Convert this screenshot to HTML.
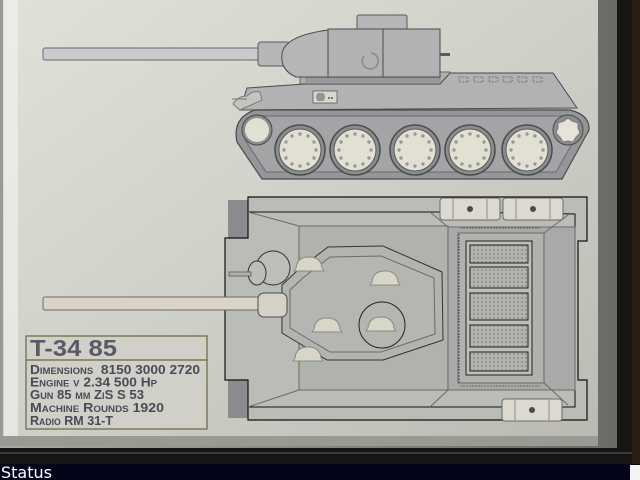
<!DOCTYPE html>
<html><head><meta charset="utf-8"><style>
html,body{margin:0;padding:0;background:#111;}
body{width:640px;height:480px;overflow:hidden;position:relative;font-family:"Liberation Sans",sans-serif;}
</style></head><body>
<svg width="640" height="480" viewBox="0 0 640 480" xmlns="http://www.w3.org/2000/svg" style="position:absolute;left:0;top:0">
<defs>
<linearGradient id="bg" x1="0" y1="0" x2="1" y2="1">
<stop offset="0" stop-color="#e0e2da"/><stop offset="0.5" stop-color="#cfd1c9"/><stop offset="1" stop-color="#babab2"/>
</linearGradient>
<linearGradient id="rf" x1="0" y1="0" x2="1" y2="0">
<stop offset="0" stop-color="#a8a8a0"/><stop offset="0.5" stop-color="#888882"/><stop offset="1" stop-color="#6a6a66"/>
</linearGradient>
<pattern id="grill" width="4" height="4" patternUnits="userSpaceOnUse">
<rect width="4" height="4" fill="#b4b4ae"/><circle cx="2" cy="2" r="1" fill="#8c8c88"/>
</pattern>
<g id="hatch"><path d="M-15,5 L15,5 L13,2 Q12,-9 0,-9 Q-12,-9 -13,2 Z" fill="#d8d6c8" stroke="#8a8a80" stroke-width="1"/></g>
<g id="wheel"><circle r="25" fill="#8a8c8e" stroke="#4a4c4e" stroke-width="1.5"/><circle r="21" fill="#e2e0d2" stroke="#5a5a5a"/>
<g fill="#9a9a94"><circle cx="0" cy="-16" r="1.7"/><circle cx="8" cy="-14" r="1.7"/><circle cx="14" cy="-8" r="1.7"/><circle cx="16" cy="0" r="1.7"/><circle cx="14" cy="8" r="1.7"/><circle cx="8" cy="14" r="1.7"/><circle cx="0" cy="16" r="1.7"/><circle cx="-8" cy="14" r="1.7"/><circle cx="-14" cy="8" r="1.7"/><circle cx="-16" cy="0" r="1.7"/><circle cx="-14" cy="-8" r="1.7"/><circle cx="-8" cy="-14" r="1.7"/></g></g>
<g id="trk"><rect x="0" y="0" width="60" height="22" rx="3" fill="#dcdad0" stroke="#6a6a66"/><line x1="13" y1="1" x2="13" y2="21" stroke="#8a8a86"/><line x1="47" y1="1" x2="47" y2="21" stroke="#8a8a86"/><circle cx="30" cy="11" r="3" fill="#4a4a4a"/></g>
</defs>
<rect x="0" y="0" width="640" height="480" fill="#2a1e14"/>
<rect x="0" y="0" width="632" height="465" fill="#161616"/>
<rect x="0" y="0" width="617" height="448" fill="url(#rf)"/>
<rect x="0" y="0" width="598" height="436" fill="url(#bg)"/>
<rect x="0" y="436" width="598" height="10" fill="#9a9a94"/>
<rect x="0" y="0" width="3" height="436" fill="#9a9a94"/>
<rect x="4" y="0" width="14" height="436" fill="#f4f4ee" opacity="0.6"/>
<rect x="0" y="452" width="632" height="2" fill="#3a3a3a"/>
<rect x="0" y="464" width="640" height="16" fill="#05051a"/>
<rect x="630" y="465" width="10" height="15" fill="#f4f4f4"/>
<text x="1" y="478" font-family="DejaVu Sans, Liberation Sans, sans-serif" font-size="16" fill="#ffffff">Status</text>

<!-- SIDE VIEW -->
<rect x="43" y="48" width="220" height="12" rx="2" fill="#c8cacb" stroke="#6a6a6a"/>
<rect x="258" y="42" width="32" height="24" rx="3" fill="#b4b6b8" stroke="#5a5a5a"/>
<rect x="300" y="72" width="150" height="12" fill="#aeb0b2" stroke="#6a6a6a"/>
<path d="M328,30 L328,77 L296,77 Q280,70 282,54 Q284,36 328,30 Z" fill="#b4b6b8" stroke="#4a4a4a"/>
<rect x="357" y="15" width="50" height="15" rx="2" fill="#b4b6b8" stroke="#5a5a5a"/>
<rect x="328" y="29" width="112" height="48" fill="#b0b2b4" stroke="#4a4a4a"/>
<line x1="383" y1="29" x2="383" y2="77" stroke="#4a4a4a"/>
<rect x="440" y="53" width="10" height="3" fill="#5a5a5a"/>
<path d="M364,56 a8,8 0 1 0 7,-3" fill="none" stroke="#8a8a84" stroke-width="1.5"/>
<rect x="306" y="78" width="134" height="4" fill="#9a9c9e" stroke="#7a7a7a" stroke-width="0.5"/>
<path d="M247,88 L305,84 L440,84 L450,73 L553,73 L577,108 L240,110 Z" fill="#b0b2b4" stroke="#4a4a4a"/>
<g fill="none" stroke="#7a7a7a" stroke-dasharray="2,1"><rect x="459" y="77" width="9" height="5"/><rect x="474" y="77" width="9" height="5"/><rect x="489" y="77" width="9" height="5"/><rect x="503" y="77" width="9" height="5"/><rect x="518" y="77" width="9" height="5"/><rect x="533" y="77" width="9" height="5"/></g>
<rect x="313" y="91" width="24" height="12" fill="#d8d8d0" stroke="#5a5a5a" stroke-width="0.8"/>
<g stroke="#333" stroke-width="0.8"><line x1="317" y1="94" x2="324" y2="94"/><line x1="316" y1="96" x2="325" y2="96"/><line x1="316" y1="98" x2="325" y2="98"/><line x1="317" y1="100" x2="324" y2="100"/></g>
<circle cx="329" cy="98" r="0.9" fill="#333"/><circle cx="332" cy="98" r="0.9" fill="#333"/>
<path d="M232,99 L247,99 M233,104 Q238,96 247,96 Q253,90 260,92 L262,100 L240,110 Z" fill="#c4c4c0" stroke="#7a7a7a"/>
<path d="M255,110 L570,110 Q590,115 589,130 L562,179 L262,179 L237,142 Q232,118 255,110 Z" fill="#94969a" stroke="#4a4a4a" stroke-width="1.2"/>
<path d="M262,116 L566,116 Q580,120 580,130 L556,172 L266,172 L245,140 Q244,120 262,116 Z" fill="#a2a4a6" stroke="#6a6a6a"/>
<circle cx="257" cy="130" r="15" fill="#8a8c8e" stroke="#4a4a4a"/><circle cx="257" cy="130" r="12" fill="#e2e0d2"/>
<circle cx="568" cy="130" r="15" fill="#8a8c8e" stroke="#4a4a4a"/>
<path d="M568,118 l4,3 l6,2 l0,5 l2,5 l-4,4 l-3,5 l-5,-1 l-5,1 l-3,-5 l-4,-4 l2,-5 l0,-5 l6,-2 Z" fill="#e6e4d8" stroke="#7a7a7a"/>
<use href="#wheel" x="300" y="150"/><use href="#wheel" x="355" y="150"/><use href="#wheel" x="415" y="150"/><use href="#wheel" x="470" y="150"/><use href="#wheel" x="527" y="150"/>

<!-- TOP VIEW -->
<rect x="228" y="200" width="20" height="38" fill="#8a8c8e"/>
<rect x="228" y="380" width="20" height="38" fill="#8a8c8e"/>
<path d="M248,197 L587,197 L587,241 L578,241 L578,380 L587,380 L587,420 L248,420 L248,380 L225,380 L225,238 L248,238 Z" fill="#babcb8" stroke="#111" stroke-width="1.2"/>
<path d="M248,212 L460,212 L575,214 L575,407 L248,407" fill="none" stroke="#111" stroke-width="1"/>
<rect x="448" y="227" width="127" height="163" fill="#a8aaa8" stroke="#6a6a6a"/>
<rect x="458" y="233" width="86" height="150" fill="#b0b2ae" stroke="#6a6a6a"/>
<line x1="459" y1="234" x2="459" y2="383" stroke="#555" stroke-dasharray="2,1"/>
<path d="M544,233 L568,215 M544,383 L568,405 M448,227 L430,212 M448,390 L430,407" stroke="#6a6a6a"/>
<rect x="299" y="226" width="149" height="164" fill="#b0b2ae" stroke="#6a6a6a"/>
<path d="M248,212 L299,226 M248,407 L299,390" stroke="#6a6a6a"/>
<rect x="466" y="241" width="66" height="134" fill="#bcbeba" stroke="#222"/>
<g stroke="#222"><rect x="470" y="245" width="58" height="18" fill="url(#grill)"/><rect x="470" y="267" width="58" height="21" fill="url(#grill)"/><rect x="470" y="293" width="58" height="27" fill="url(#grill)"/><rect x="470" y="325" width="58" height="22" fill="url(#grill)"/><rect x="470" y="352" width="58" height="19" fill="url(#grill)"/></g>
<g fill="none" stroke="#6a6a6a" stroke-dasharray="2,1"><line x1="460" y1="228" x2="540" y2="228"/><line x1="460" y1="386" x2="540" y2="386"/></g>
<use href="#trk" x="440" y="198"/><use href="#trk" x="503" y="198"/><use href="#trk" x="502" y="399"/>
<rect x="282" y="285" width="18" height="48" fill="#dedcd0" stroke="#6a6a6a"/>
<path d="M328,247 L383,246 L442,272 L443,340 L383,360 L327,360 L282,333 L282,285 L298,270 Z" fill="#b2b4b0" stroke="#333"/>
<path d="M330,257 L381,256 L434,278 L435,334 L381,352 L330,352 L290,328 L290,290 L304,277 Z" fill="#b4b6b2" stroke="#6a6a6a"/>
<circle cx="273" cy="268" r="17" fill="#bcbeba" stroke="#333"/>
<ellipse cx="257" cy="273" rx="9" ry="12" fill="#bcbeba" stroke="#333"/>
<rect x="229" y="272" width="22" height="4" fill="#b0b2b0" stroke="#555" stroke-width="0.8"/>
<circle cx="382" cy="325" r="23" fill="none" stroke="#222"/>
<rect x="43" y="297" width="220" height="13" rx="2" fill="#d8d4c8" stroke="#6a6a6a"/>
<rect x="258" y="293" width="29" height="24" rx="6" fill="#d4d2c6" stroke="#4a4a4a"/>
<use href="#hatch" x="309" y="266"/><use href="#hatch" x="385" y="280"/><use href="#hatch" x="327" y="327"/><use href="#hatch" x="381" y="326"/><use href="#hatch" x="308" y="356"/>

<!-- INFO BOX -->
<rect x="26" y="336" width="181" height="93" fill="#d0d0c8" stroke="#6a6444" stroke-width="1.2"/>
<line x1="26" y1="360" x2="207" y2="360" stroke="#6a6444" stroke-width="1.2"/>
<text x="30" y="356" font-family="Liberation Sans, sans-serif" font-size="23" font-weight="bold" fill="#5a5a66" textLength="87" lengthAdjust="spacingAndGlyphs">T-34 85</text>
<g font-family="Liberation Sans, sans-serif" font-size="13" font-weight="bold" fill="#4a4a58" style="font-variant:small-caps">
<text x="30" y="374" textLength="170" lengthAdjust="spacingAndGlyphs">Dimensions&#160; 8150 3000 2720</text>
<text x="30" y="386.5" textLength="127" lengthAdjust="spacingAndGlyphs">Engine v 2.34 500 Hp</text>
<text x="30" y="399" textLength="114" lengthAdjust="spacingAndGlyphs">Gun 85 mm ZiS S 53</text>
<text x="30" y="412" textLength="134" lengthAdjust="spacingAndGlyphs">Machine Rounds 1920</text>
<text x="30" y="425" textLength="83" lengthAdjust="spacingAndGlyphs">Radio RM 31-T</text>
</g>
</svg>
</body></html>
